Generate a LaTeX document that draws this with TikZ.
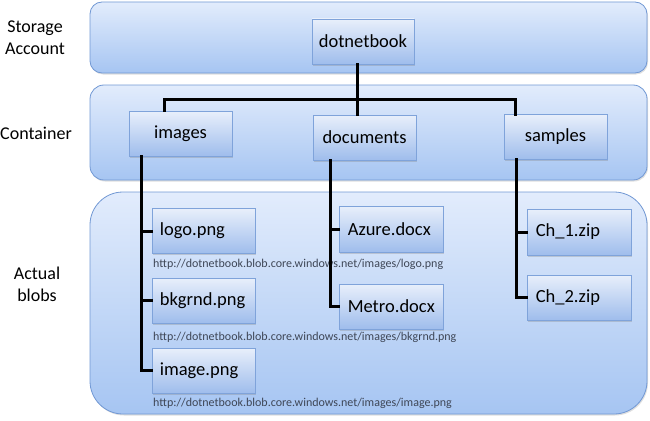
\documentclass[tikz,border=0pt]{standalone}
\usepackage{fontspec}
\setmainfont{Carlito}
\usetikzlibrary{shadows,calc}
\definecolor{pantop}{HTML}{E2ECFC}
\definecolor{panbot}{HTML}{A6C5F2}
\definecolor{panline}{HTML}{7198D4}
\definecolor{boxtop}{HTML}{E8EFFB}
\definecolor{boxbot}{HTML}{9FBDEC}
\definecolor{boxline}{HTML}{7FA3DA}
\definecolor{urlcol}{HTML}{3E4656}
\tikzset{
  panel/.style={draw=panline, line width=0.8pt, top color=pantop, bottom color=panbot},
  itembox/.style={draw=boxline, line width=0.8pt, top color=boxtop, bottom color=boxbot,
    minimum width=103pt, minimum height=45pt, inner sep=0pt,
    drop shadow={shadow xshift=1.2pt, shadow yshift=-1.5pt, opacity=0.3},
    font=\fontsize{18.5}{22}\selectfont},
  blobtext/.style={font=\fontsize{18.5}{22}\selectfont, anchor=west, inner sep=0pt},
  sidelabel/.style={font=\fontsize{18}{22}\selectfont, align=center, inner sep=0pt},
  urltext/.style={font=\fontsize{12}{13}\selectfont, text=urlcol, anchor=west, inner sep=0pt},
  conn/.style={line width=3pt, black, line cap=rect}
}
\begin{document}
\begin{tikzpicture}[x=1pt,y=-1pt]
\useasboundingbox (0,0) rectangle (650,420);
% panels
\path[panel, rounded corners=12pt, drop shadow={shadow xshift=1pt, shadow yshift=-1.5pt, opacity=0.25}] (90,2) rectangle (647,73);
\path[panel, rounded corners=14pt, drop shadow={shadow xshift=1pt, shadow yshift=-1.5pt, opacity=0.25}] (90,85) rectangle (647,180);
\path[panel, rounded corners=33pt, drop shadow={shadow xshift=1pt, shadow yshift=-1.5pt, opacity=0.25}] (90,192) rectangle (647,414);
% side labels
\node[sidelabel] (lsa) at (35,38) {Storage\\Account};
\node[sidelabel] (lc) at (36,133) {Container};
\node[sidelabel] (lab) at (37,284) {Actual\\blobs};
% bus coordinates
\coordinate (bus) at (357,99);
\coordinate (busL) at (164,99);
\coordinate (busR) at (515,99);
% boxes
\node[itembox, minimum width=102pt] (dn) at (363,41.5) {dotnetbook};
\node[itembox] (images) at (180.5,133.5) {images};
\node[itembox] (documents) at (364.5,137.5) {documents};
\node[itembox] (samples) at (555.5,137) {samples};
\node[itembox] (logo) at (203.5,231) {};
\node[itembox] (bkgrnd) at (203.5,300.5) {};
\node[itembox] (image) at (203.5,370.5) {};
\node[itembox, minimum width=104pt, minimum height=46pt] (azure) at (391,229) {};
\node[itembox, minimum width=104pt] (metro) at (391,306.5) {};
\node[itembox, minimum width=104pt, minimum height=46pt] (ch1) at (579,232) {};
\node[itembox, minimum width=104pt] (ch2) at (579,297.5) {};
\node[blobtext] (tlogo) at ([xshift=8pt]logo.west) {logo.png};
\node[blobtext] (tbk) at ([xshift=8pt]bkgrnd.west) {bkgrnd.png};
\node[blobtext] (timg) at ([xshift=8pt]image.west) {image.png};
\node[blobtext] (taz) at ([xshift=9pt]azure.west) {Azure.docx};
\node[blobtext] (tme) at ([xshift=9pt]metro.west) {Metro.docx};
\node[blobtext] (tc1) at ([xshift=9pt]ch1.west) {Ch\_1.zip};
\node[blobtext] (tc2) at ([xshift=9pt]ch2.west) {Ch\_2.zip};
% urls
\node[urltext] (u1) at (153,264) {http://dotnetbook.blob.core.windows.net/images/logo.png};
\node[urltext] (u2) at (153,337) {http://dotnetbook.blob.core.windows.net/images/bkgrnd.png};
\node[urltext] (u3) at (153,403) {http://dotnetbook.blob.core.windows.net/images/image.png};
% connectors
\draw[conn] (dn.south -| bus) -- (documents.north -| bus);
\draw[conn] (images.north -| busL) -- (busL) -- (busR) -- (samples.north -| busR);
\coordinate (ti) at (141,0);
\coordinate (td) at (330,0);
\coordinate (ts) at (516,0);
\draw[conn] (images.south -| ti) -- (ti |- image.west) -- (image.west);
\draw[conn] (ti |- logo.west) -- (logo.west);
\draw[conn] (ti |- bkgrnd.west) -- (bkgrnd.west);
\draw[conn] (documents.south -| td) -- (td |- metro.west) -- (metro.west);
\draw[conn] (td |- azure.west) -- (azure.west);
\draw[conn] (samples.south -| ts) -- (ts |- ch2.west) -- (ch2.west);
\draw[conn] (ts |- ch1.west) -- (ch1.west);
\end{tikzpicture}
\end{document}
